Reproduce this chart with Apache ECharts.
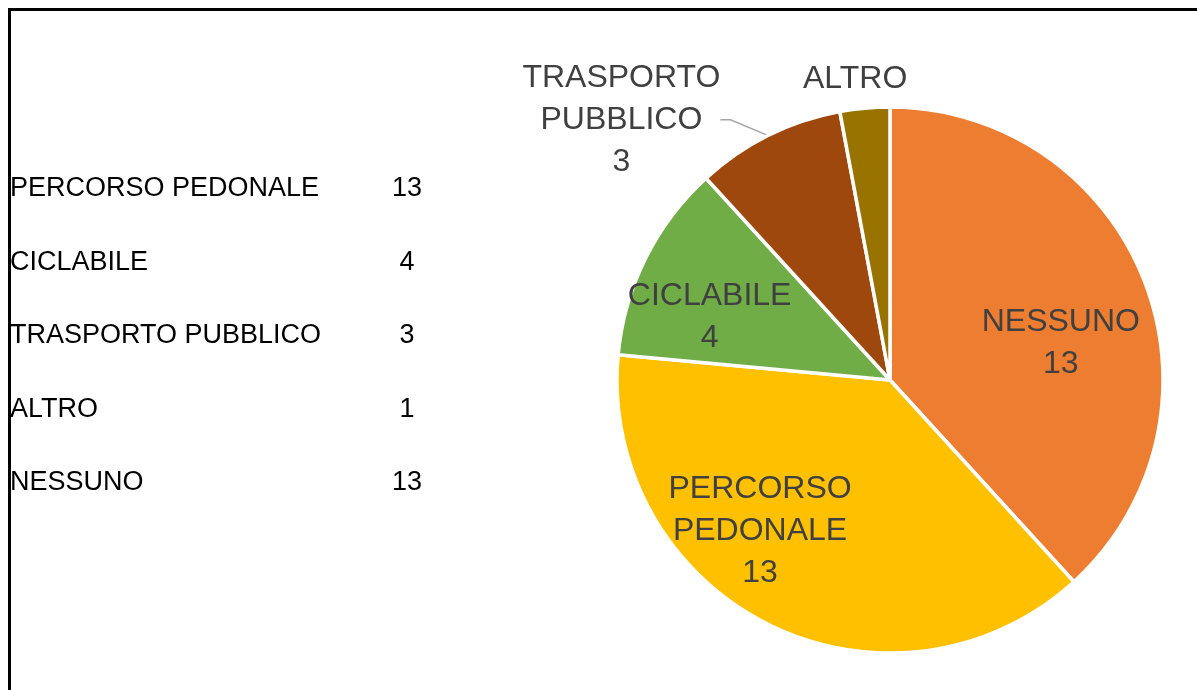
<!DOCTYPE html>
<html>
<head>
<meta charset="utf-8">
<script src="https://cdn.jsdelivr.net/npm/echarts@6/dist/echarts.min.js"></script>
<style>
  html, body { margin: 0; padding: 0; background: #ffffff; }
  #chart { width: 1197px; height: 690px; }
</style>
</head>
<body>
<div id="chart"></div>
<script>
// ---- data ----
const categories = ['PERCORSO PEDONALE', 'CICLABILE', 'TRASPORTO PUBBLICO', 'ALTRO', 'NESSUNO'];
const values = [13, 4, 3, 1, 13];
// pie drawing order (clockwise from 12 o'clock)
const pieOrder = ['NESSUNO', 'PERCORSO PEDONALE', 'CICLABILE', 'TRASPORTO PUBBLICO', 'ALTRO'];

// ---- style ----
const colorMap = {
  'NESSUNO': '#ED7D31',
  'PERCORSO PEDONALE': '#FFC000',
  'CICLABILE': '#70AD47',
  'TRASPORTO PUBBLICO': '#9E480E',
  'ALTRO': '#997300'
};
const FONT = '"Liberation Sans", Arial, sans-serif';
const CX = 890, CY = 380, R = 273;
// label placement: polar angle (deg clockwise from top) and radius fraction
const labelPlace = {
  'NESSUNO': [77.9, 0.64],
  'PERCORSO PEDONALE': [220.7, 0.73],
  'CICLABILE': [289.3, 0.70],
  'TRASPORTO PUBBLICO': [314.1, 1.37],
  'ALTRO': [353.4, 1.11]
};
const outsideLabels = ['TRASPORTO PUBBLICO', 'ALTRO'];
const nameOnlyLabels = ['ALTRO'];

const pieData = pieOrder.map(name => {
  const v = values[categories.indexOf(name)];
  const outside = outsideLabels.indexOf(name) >= 0;
  return {
    name: name,
    value: v,
    itemStyle: { color: colorMap[name] },
    label: { position: outside ? 'outside' : 'inside' },
    labelLine: { show: name === 'TRASPORTO PUBBLICO' }
  };
});

// left list as text
const listGraphics = [];
categories.forEach((c, i) => {
  const y = 189 + i * 73.5;
  listGraphics.push({
    type: 'text', x: 10, y: y,
    style: { text: c, fill: '#000000', font: '27px ' + FONT, textVerticalAlign: 'middle' }
  });
  listGraphics.push({
    type: 'text', x: 407, y: y,
    style: { text: String(values[i]), fill: '#000000', font: '27px ' + FONT, textAlign: 'center', textVerticalAlign: 'middle' }
  });
});

const chart = echarts.init(document.getElementById('chart'), null, { renderer: 'canvas' });
chart.setOption({
  animation: false,
  backgroundColor: '#ffffff',
  graphic: [
    {
      type: 'rect', z: 100,
      shape: { x: 9.5, y: 9.5, width: 1400, height: 900 },
      style: { fill: 'none', stroke: '#000000', lineWidth: 3 }
    }
  ].concat(listGraphics),
  series: [{
    type: 'pie',
    center: [CX, CY],
    radius: R,
    startAngle: 90,
    clockwise: true,
    avoidLabelOverlap: false,
    itemStyle: { borderColor: '#ffffff', borderWidth: 3.5 },
    label: {
      show: true,
      color: '#404040',
      fontFamily: FONT,
      fontSize: 32,
      lineHeight: 42,
      align: 'center',
      formatter: p => nameOnlyLabels.indexOf(p.name) >= 0
        ? p.name
        : p.name.replace(' ', '\n') + '\n' + p.value
    },
    labelLine: {
      show: true,
      length: 10,
      length2: 10,
      lineStyle: { color: '#A6A6A6', width: 1.5 }
    },
    labelLayout: function (params) {
      const name = pieOrder[params.dataIndex];
      const pl = labelPlace[name];
      const a = pl[0] * Math.PI / 180;
      return {
        x: CX + R * pl[1] * Math.sin(a),
        y: CY - R * pl[1] * Math.cos(a),
        align: 'center',
        verticalAlign: 'middle'
      };
    },
    emphasis: { disabled: true },
    data: pieData
  }]
});
</script>
</body>
</html>
